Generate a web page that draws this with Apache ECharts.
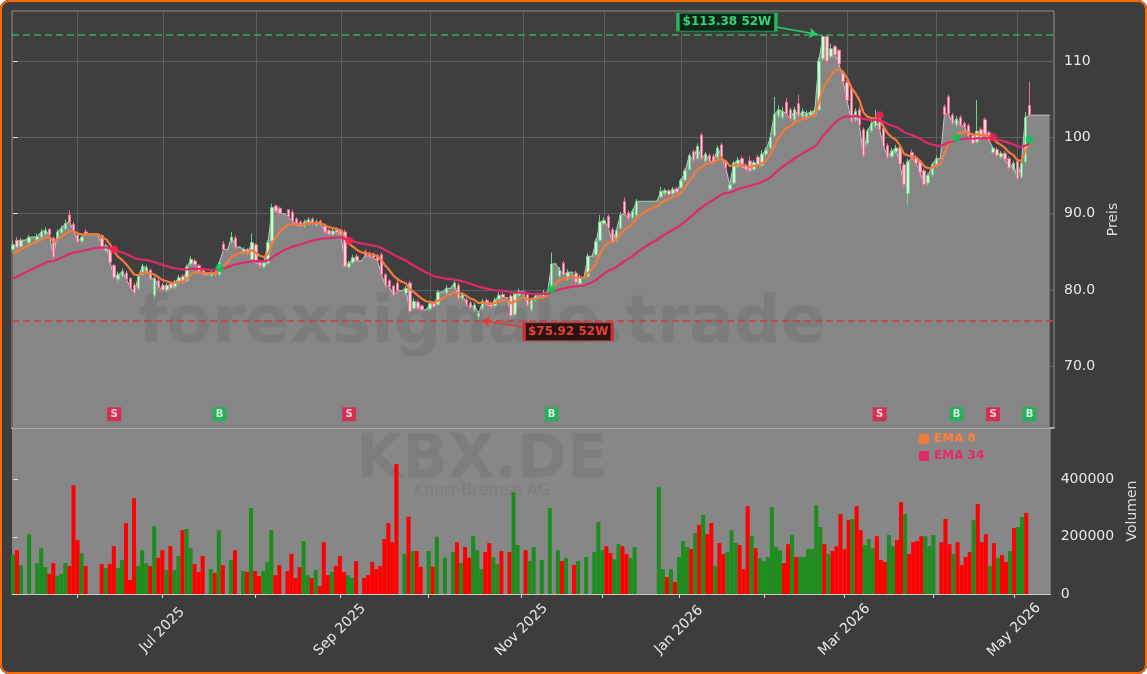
<!DOCTYPE html>
<html>
<head>
<meta charset="utf-8">
<script src="https://cdn.jsdelivr.net/npm/echarts@6/dist/echarts.min.js"></script>
<style>
  html, body { margin: 0; padding: 0; background: #ffffff; }
  #wrap { position: relative; width: 1147px; height: 674px; border-radius: 9px; overflow: hidden; background: #3d3d3d; }
  #chart { position: absolute; left: 0; top: 0; width: 1147px; height: 674px; }
  #frame { position: absolute; left: 0; top: 0; right: 0; bottom: 0; border: 2px solid #ff6a00; border-radius: 9px; pointer-events: none; }
</style>
</head>
<body>
<div id="wrap"><div id="chart"></div><div id="frame"></div></div>
<script>
// daily candles, one per trading day (May 2025 - May 2026): [open, close, low, high]
const candles = [
  [85.3,85.9,85.0,86.4],[86.5,85.6,85.3,86.9],[85.7,86.5,85.5,86.8],[86.5,86.5,86.5,86.5],[86.2,86.9,85.9,87.2],
  [86.9,86.9,86.9,86.9],[86.6,87.0,86.3,87.4],[86.9,87.6,86.7,88.0],[87.3,87.8,87.1,88.2],[87.9,87.2,86.9,88.1],
  [86.8,84.3,84.0,87.0],[86.8,87.6,86.5,87.9],[87.5,88.1,87.3,88.4],[88.0,88.7,87.8,89.2],[89.8,88.9,88.6,90.4],
  [88.6,87.7,87.4,88.9],[87.2,86.3,86.0,87.5],[86.4,86.9,86.1,87.3],[87.6,87.3,87.0,88.0],[87.3,87.3,87.3,87.3],
  [87.3,87.3,87.3,87.3],[87.3,87.3,87.3,87.3],[87.1,85.4,85.2,87.3],[85.2,85.8,84.9,86.1],[85.3,83.6,83.4,85.5],
  [83.2,81.6,81.3,83.4],[81.4,82.0,81.0,82.4],[81.9,82.4,81.6,82.8],[82.2,81.4,81.1,82.5],[81.5,80.3,80.0,81.7],
  [80.6,79.6,79.2,80.9],[80.2,81.8,80.0,82.1],[82.0,83.1,81.8,83.4],[82.4,82.9,82.1,83.3],[82.6,81.4,81.1,82.8],
  [79.3,81.5,78.9,81.8],[81.2,80.4,80.1,81.5],[80.6,80.0,79.6,80.9],[80.0,80.6,79.7,80.9],[80.8,80.2,79.9,81.1],
  [80.4,81.0,80.1,81.3],[81.0,81.6,80.7,82.0],[81.8,81.0,80.7,82.1],[81.2,83.0,81.0,83.3],[83.4,84.0,83.1,84.4],
  [83.8,83.3,83.0,84.1],[83.2,82.4,82.1,83.4],[82.6,82.0,81.7,82.8],[82.0,82.0,82.0,82.0],[81.9,82.3,81.6,82.6],
  [82.4,82.0,81.7,82.6],[82.0,83.6,81.8,83.9],[86.0,85.3,84.9,86.4],[85.3,85.3,85.3,85.3],[86.4,86.9,86.1,87.6],
  [86.8,85.6,85.3,87.1],[85.6,85.6,85.6,85.6],[84.9,85.3,84.6,85.6],[85.3,84.8,84.4,85.5],[84.0,86.2,83.8,87.4],
  [85.9,83.6,83.3,86.1],[83.7,83.2,82.9,84.0],[83.0,83.6,82.8,83.9],[83.5,86.2,83.3,86.5],[86.4,90.8,86.2,91.3],
  [91.0,90.3,90.0,91.2],[90.7,90.0,89.7,90.9],[90.0,90.0,90.0,90.0],[90.5,89.6,89.3,90.6],[90.2,89.0,88.7,90.5],
  [89.3,88.6,88.3,89.5],[88.9,88.3,88.0,89.1],[88.4,88.9,88.1,89.2],[88.8,89.2,88.5,89.5],[89.3,88.7,88.4,89.5],
  [88.5,88.9,88.2,89.2],[89.0,88.6,88.3,89.2],[88.5,87.6,87.3,88.7],[87.8,87.3,87.0,88.0],[87.3,87.7,87.0,88.0],
  [87.9,87.5,87.2,88.2],[87.8,87.3,87.0,88.0],[87.6,83.1,82.8,87.9],[83.0,83.5,82.7,83.8],[83.6,84.2,83.3,84.6],
  [84.4,83.8,83.5,84.7],[83.8,83.8,83.8,83.8],[85.0,84.5,84.2,85.3],[84.8,84.4,84.1,85.0],[84.7,84.2,83.9,84.9],
  [84.5,83.8,83.5,84.7],[84.6,82.0,81.7,84.9],[82.0,80.6,80.3,82.2],[81.2,80.4,80.1,81.4],[80.5,79.3,79.0,80.7],
  [80.9,79.9,79.4,81.3],[79.9,79.9,79.9,79.9],[79.6,80.2,79.3,80.5],[80.9,77.2,76.9,81.2],[77.6,78.5,77.3,78.9],
  [78.4,77.6,77.3,78.7],[77.9,77.4,77.0,78.1],[77.4,77.4,77.4,77.4],[77.5,78.2,77.2,78.5],[78.3,77.8,77.5,78.5],
  [78.1,79.7,77.9,80.0],[79.7,79.7,79.7,79.7],[79.6,80.2,79.3,80.6],[80.2,80.2,80.2,80.2],[80.3,80.9,80.0,81.4],
  [80.6,78.9,78.6,80.9],[78.9,79.4,78.6,79.7],[78.7,78.1,77.8,79.0],[78.3,77.7,77.4,78.6],[77.4,78.0,77.1,78.3],
  [76.5,76.9,75.92,77.2],[77.6,78.5,77.3,78.8],[78.6,78.1,77.8,78.9],[78.3,77.8,77.5,78.5],[77.9,78.6,77.6,79.0],
  [78.8,79.3,78.5,79.7],[79.4,79.0,78.7,79.7],[79.0,79.0,79.0,79.0],[79.2,76.6,76.3,79.4],[76.8,79.5,76.5,79.8],
  [79.3,79.8,79.0,80.2],[79.8,79.8,79.8,79.8],[79.4,78.0,77.7,79.6],[77.4,78.7,77.1,79.0],[78.8,79.2,78.5,79.5],
  [79.2,79.2,79.2,79.2],[79.1,79.6,78.8,80.0],[79.6,79.6,79.6,79.6],[79.9,83.4,79.7,84.9],[83.4,83.4,83.4,83.4],
  [81.8,82.6,81.5,83.0],[83.5,82.0,81.7,83.8],[81.5,82.3,81.2,82.7],[82.3,82.3,82.3,82.3],[82.2,81.0,80.6,82.5],
  [80.8,81.6,80.5,82.0],[81.6,81.6,81.6,81.6],[81.8,84.4,81.6,84.8],[84.4,84.4,84.4,84.4],[84.6,86.3,84.4,86.7],
  [86.5,88.9,86.3,89.8],[88.7,89.1,88.4,89.5],[89.6,88.1,87.8,89.9],[87.9,86.3,86.0,88.2],[86.6,87.8,86.3,88.1],
  [88.1,89.8,87.9,90.2],[91.6,90.0,89.7,92.1],[90.1,89.4,89.1,90.4],[89.5,90.3,89.2,90.6],[89.8,91.6,89.6,91.9],
  [91.6,91.6,91.6,91.6],[91.6,91.6,91.6,91.6],[91.6,91.6,91.6,91.6],[91.6,91.6,91.6,91.6],[91.6,91.6,91.6,91.6],
  [92.2,92.9,92.0,93.5],[92.7,93.0,92.4,93.3],[93.0,92.5,92.2,93.2],[92.6,93.2,92.3,93.5],[93.3,92.8,92.5,93.5],
  [93.4,94.3,93.2,94.6],[94.4,95.6,94.2,95.9],[95.8,97.6,95.6,97.9],[98.1,97.0,96.7,98.4],[97.2,98.8,97.0,99.2],
  [100.3,97.2,96.9,100.6],[96.9,97.8,96.6,98.1],[97.6,96.9,96.6,97.9],[97.5,96.8,96.5,97.8],[97.4,98.6,97.1,98.9],
  [99.0,97.5,97.2,99.3],[96.8,96.0,95.7,97.0],[93.2,93.8,92.9,94.2],[94.0,96.6,93.8,96.9],[96.2,97.0,95.9,97.4],
  [97.2,96.2,95.9,97.5],[96.3,95.8,95.5,96.6],[96.9,95.6,95.3,97.5],[95.8,96.7,95.5,97.0],[97.4,96.4,96.1,97.7],
  [96.3,97.8,96.1,98.3],[97.8,98.3,97.5,98.7],[98.6,100.0,98.4,100.5],[100.2,103.0,100.0,105.3],[102.8,103.6,102.5,104.2],
  [102.6,103.4,102.3,104.0],[104.6,103.1,102.8,105.1],[103.6,102.4,102.1,103.9],[102.3,103.6,102.0,104.0],[104.4,102.8,102.5,105.6],
  [102.7,103.4,102.4,103.8],[102.6,103.1,102.3,103.5],[102.9,103.3,102.6,103.6],[103.0,103.5,102.7,103.9],[103.6,110.0,103.4,110.4],
  [110.3,113.2,110.0,113.38],[113.2,110.0,109.7,113.3],[110.6,111.6,110.3,112.3],[111.9,110.8,110.5,112.1],[111.4,109.6,109.3,111.6],
  [108.4,107.3,107.0,108.7],[107.2,104.8,104.5,107.5],[106.5,102.1,101.8,106.8],[102.3,103.4,102.0,103.8],[103.6,101.6,101.3,104.0],
  [101.0,97.6,97.3,101.3],[99.2,100.8,98.9,101.1],[100.9,101.8,100.6,102.2],[101.5,102.3,101.2,103.6],[102.6,101.0,100.7,102.9],
  [101.2,98.8,98.5,101.5],[98.9,97.4,97.1,99.2],[97.5,98.2,97.2,98.6],[98.1,98.6,97.8,99.0],[98.6,96.5,96.2,98.9],
  [96.4,93.8,93.2,96.7],[92.6,96.8,91.1,97.2],[98.0,97.3,97.0,98.4],[97.4,96.6,96.3,97.7],[96.8,95.4,95.1,97.1],
  [95.6,93.8,93.5,95.9],[94.0,95.0,93.7,95.3],[95.1,96.4,94.8,96.7],[96.3,97.2,96.0,97.6],[97.2,97.2,97.2,97.2],
  [104.0,103.0,102.7,104.3],[105.3,103.1,102.8,105.6],[102.9,101.8,101.5,103.2],[101.6,102.4,101.3,102.8],[102.6,101.6,101.3,102.9],
  [101.8,101.3,101.0,102.1],[101.5,100.2,99.9,101.8],[100.3,99.2,98.9,100.6],[99.4,100.8,99.1,104.9],[101.0,99.8,99.5,101.3],
  [102.3,100.4,100.1,102.6],[100.6,99.6,99.3,100.9],[98.0,98.6,97.7,98.9],[98.4,97.6,97.3,98.7],[97.4,97.9,97.1,98.2],
  [97.9,97.1,96.8,98.2],[97.2,96.0,95.7,97.5],[95.8,96.6,95.5,96.9],[96.8,94.6,94.3,97.0],[94.8,96.6,94.5,96.9],
  [96.8,102.6,96.5,103.3],[104.2,102.9,102.6,107.3]
];

const volume = [
  136000,153000,101000,0,209000,0,107000,160000,94000,70000,
  108000,64000,70000,108000,98000,380000,188000,142000,98000,0,
  0,0,105000,91000,105000,167000,91000,119000,248000,49000,
  335000,98000,153000,107000,98000,237000,126000,153000,84000,167000,
  84000,133000,223000,227000,160000,105000,77000,133000,0,87000,
  73000,223000,101000,0,119000,153000,0,80000,77000,300000,
  80000,63000,80000,112000,223000,66000,101000,0,80000,140000,
  56000,94000,185000,66000,56000,84000,28000,181000,66000,77000,
  98000,133000,77000,66000,56000,115000,0,56000,66000,112000,
  87000,98000,192000,248000,181000,454000,0,140000,270000,150000,
  150000,95000,0,150000,95000,200000,0,127000,0,147000,
  181000,108000,164000,127000,202000,153000,87000,147000,178000,129000,
  105000,150000,0,147000,356000,171000,0,153000,115000,164000,
  0,119000,0,300000,0,153000,115000,126000,0,101000,
  115000,0,129000,0,147000,251000,153000,167000,143000,122000,
  174000,167000,140000,126000,164000,0,0,0,0,0,
  373000,87000,59000,87000,42000,129000,185000,164000,157000,213000,
  241000,276000,209000,248000,98000,178000,140000,147000,223000,178000,
  171000,87000,307000,202000,160000,126000,115000,129000,304000,164000,
  153000,108000,174000,206000,129000,129000,129000,157000,157000,310000,
  234000,174000,140000,150000,167000,279000,157000,258000,262000,307000,
  223000,171000,192000,160000,202000,119000,112000,206000,167000,188000,
  321000,279000,140000,181000,185000,202000,202000,167000,206000,0,
  181000,262000,174000,140000,181000,101000,129000,147000,258000,314000,
  181000,209000,98000,178000,126000,136000,112000,150000,230000,234000,
  269000,283000
];

// month starts (trading-day index) and their labels
const monthTicks = [16, 37, 60, 81, 103, 126, 146, 165, 186, 206, 228, 248];
const monthLabels = ['', 'Jul 2025', '', 'Sep 2025', '', 'Nov 2025', '', 'Jan 2026', '', 'Mar 2026', '', 'May 2026'];
const priceTicks = [70, 80, 90, 100, 110];
const priceTickLabels = ['70.0', '80.0', '90.0', '100', '110'];
const volumeTicks = [0, 200000, 400000];

// EMA crossover signals
const signalIdx = [25, 51, 83, 133, 214, 233, 242, 251];
const signalType = ['S', 'B', 'S', 'B', 'S', 'B', 'S', 'B'];
const signalPrice = [85.3, 82.9, 86.45, 80.1, 102.9, 99.9, 100.0, 99.7];

const high52 = 113.38;
const low52 = 75.92;
const ema8Start = 84.8;   // EMA values carried in from before the window
const ema34Start = 81.5;
const fillEndIdx = 256;   // gray fill runs on to here

const closes = candles.map(d => d[1]);

function ema(values, period, start) {
  const k = 2 / (period + 1);
  let prev = start;
  return values.map((v, i) => {
    if (i > 0) prev = prev + k * (v - prev);
    return +prev.toFixed(3);
  });
}
const ema8 = ema(closes, 8, ema8Start);
const ema34 = ema(closes, 34, ema34Start);

const xMin = -0.23, xMax = 257.06;
const font = 'DejaVu Sans';
const labelTicks = monthTicks.filter((t, k) => monthLabels[k]);

const areaData = closes.map((c, i) => [i, c]).concat([[fillEndIdx, closes[closes.length - 1]]]);

const chart = echarts.init(document.getElementById('chart'));

const option = {
  backgroundColor: '#3d3d3d',
  animation: false,
  textStyle: { fontFamily: font },
  grid: [
    { left: 12, right: 93, top: 11, height: 417, show: true, backgroundColor: '#3f3f3f', borderColor: '#8f8f8f', borderWidth: 1 },
    { left: 12, right: 93, top: 428, height: 166, show: true, backgroundColor: '#878787', borderWidth: 0 }
  ],
  legend: {
    data: [
      { name: 'EMA 8', textStyle: { color: '#ff7f3f' } },
      { name: 'EMA 34', textStyle: { color: '#e8286e' } }
    ],
    orient: 'vertical', left: 914, top: 428,
    icon: 'rect', itemWidth: 10, itemHeight: 10, itemGap: 5,
    textStyle: { fontWeight: 'bold', fontSize: 12, fontFamily: font },
    selectedMode: false
  },
  xAxis: [
    {
      type: 'value', gridIndex: 0, min: xMin, max: xMax,
      axisLine: { show: true, onZero: false, lineStyle: { color: '#a8a8a8', width: 2 } },
      axisTick: { show: false, customValues: monthTicks },
      axisLabel: { show: false },
      splitLine: { show: true, lineStyle: { color: '#5e5e5e', width: 1 } }
    },
    {
      type: 'value', gridIndex: 1, min: xMin, max: xMax,
      axisLine: { show: true, onZero: false, lineStyle: { color: '#c8c8c8', width: 1 } },
      axisTick: { show: true, length: 4, customValues: monthTicks, lineStyle: { color: '#dcdcdc' } },
      axisLabel: {
        customValues: labelTicks,
        formatter: v => monthLabels[monthTicks.indexOf(v)] || '',
        rotate: 45, align: 'center', verticalAlign: 'middle', margin: 36,
        color: '#e8e8e8', fontSize: 14, fontFamily: font
      },
      splitLine: { show: false }
    }
  ],
  yAxis: [
    {
      type: 'value', gridIndex: 0, position: 'right', min: 61.9, max: 116.55,
      axisLine: { show: false },
      axisTick: { show: true, length: 5, customValues: priceTicks, lineStyle: { color: '#dddddd' } },
      axisLabel: {
        customValues: priceTicks,
        formatter: v => priceTickLabels[priceTicks.indexOf(v)],
        color: '#e8e8e8', fontSize: 14, margin: 10, fontFamily: font
      },
      splitLine: { show: true, lineStyle: { color: '#5e5e5e', width: 1 } },
      name: 'Preis', nameLocation: 'middle', nameGap: 52, nameRotate: 90,
      nameTextStyle: { color: '#dddddd', fontSize: 14, fontFamily: font }
    },
    {
      type: 'value', gridIndex: 1, position: 'right', min: 0, max: 580000,
      axisLine: { show: false },
      axisTick: { show: true, length: 5, customValues: volumeTicks, lineStyle: { color: '#dddddd' } },
      axisLabel: { customValues: volumeTicks, formatter: v => String(v), color: '#e8e8e8', fontSize: 14, margin: 10, fontFamily: font },
      splitLine: { show: false },
      name: 'Volumen', nameLocation: 'middle', nameGap: 73, nameRotate: 90,
      nameTextStyle: { color: '#dddddd', fontSize: 14, fontFamily: font }
    }
  ],
  graphic: [
    { type: 'text', x: 482, y: 325, z: 2, silent: true,
      style: { text: 'forexsignale.trade', font: 'bold 66px "DejaVu Sans"', fill: 'rgba(0,0,0,0.075)', align: 'center', verticalAlign: 'middle' } },
    { type: 'text', x: 482, y: 461, z: 2, silent: true,
      style: { text: 'KBX.DE', font: 'bold 60px "DejaVu Sans"', fill: 'rgba(0,0,0,0.07)', align: 'center', verticalAlign: 'middle' } },
    { type: 'text', x: 482, y: 491, z: 2, silent: true,
      style: { text: 'Knorr-Bremse AG', font: '16px "DejaVu Sans"', fill: 'rgba(0,0,0,0.07)', align: 'center', verticalAlign: 'middle' } }
  ],
  series: [
    {
      name: 'Close', type: 'line', xAxisIndex: 0, yAxisIndex: 0, z: 1,
      data: areaData, symbol: 'none', silent: true,
      lineStyle: { color: '#c6c6c6', width: 1 },
      areaStyle: { color: '#868686', opacity: 1, origin: 'start' },
      markLine: {
        silent: true, symbol: ['none', 'none'], label: { show: false },
        data: [
          { yAxis: high52, lineStyle: { color: '#2fae60', type: [7, 4], width: 1.5 } },
          { yAxis: low52, lineStyle: { color: '#d23b3b', type: [7, 4], width: 1.5 } },
          [
            { coord: [188.4, 114.45], symbol: 'none', lineStyle: { color: '#2ecc71', type: 'solid', width: 1.5 } },
            { coord: [198.6, 113.5], symbol: 'arrow', symbolSize: 8 }
          ],
          [
            { coord: [125.7, 75.15], symbol: 'none', lineStyle: { color: '#e53935', type: 'solid', width: 1.5 } },
            { coord: [115.8, 76.0], symbol: 'arrow', symbolSize: 8 }
          ]
        ]
      },
      markPoint: {
        silent: true,
        data: [
          {
            coord: [176.3, 115.1], symbol: 'rect', symbolSize: [98, 18],
            itemStyle: { color: '#0d2616', borderColor: '#2ab060', borderWidth: 1.5 },
            label: { show: true, position: 'inside', formatter: '$' + high52.toFixed(2) + ' 52W', color: '#3ad27c', fontWeight: 'bold', fontSize: 12, fontFamily: font }
          },
          {
            coord: [137.1, 74.5], symbol: 'rect', symbolSize: [88, 18],
            itemStyle: { color: '#2a1313', borderColor: '#cc3030', borderWidth: 1.5 },
            label: { show: true, position: 'inside', formatter: '$' + low52.toFixed(2) + ' 52W', color: '#e8403a', fontWeight: 'bold', fontSize: 12, fontFamily: font }
          }
        ]
      }
    },
    {
      name: 'Kurs', type: 'candlestick', xAxisIndex: 0, yAxisIndex: 0, z: 3,
      data: candles.map((d, i) => [i, d[0], d[1], d[2], d[3]]),
      encode: { x: 0, y: [1, 2, 3, 4] },
      barWidth: 3, silent: true,
      itemStyle: { color: '#d6f4da', color0: '#fad2dc', borderColor: '#6fd08a', borderColor0: '#f06d92', borderWidth: 1 }
    },
    {
      name: 'EMA 8', type: 'line', xAxisIndex: 0, yAxisIndex: 0, z: 4,
      data: ema8.map((v, i) => [i, v]), symbol: 'none', color: '#f47a3c',
      lineStyle: { color: '#f47a3c', width: 2.2 }
    },
    {
      name: 'EMA 34', type: 'line', xAxisIndex: 0, yAxisIndex: 0, z: 4,
      data: ema34.map((v, i) => [i, v]), symbol: 'none', color: '#e0286c',
      lineStyle: { color: '#e0286c', width: 2.2 }
    },
    {
      name: 'Signal', type: 'scatter', xAxisIndex: 0, yAxisIndex: 0, z: 6, silent: true,
      symbolSize: 8,
      data: signalIdx.map((x, k) => ({ value: [x, signalPrice[k]], itemStyle: { color: signalType[k] === 'S' ? '#ff1f4f' : '#00c957' } }))
    },
    {
      name: 'SignalTag', type: 'scatter', xAxisIndex: 0, yAxisIndex: 0, z: 6, silent: true,
      symbol: 'rect', symbolSize: 14,
      data: signalIdx.map((x, k) => ({
        value: [x, 63.7],
        itemStyle: { color: signalType[k] === 'S' ? '#e8194b' : '#12b654' },
        label: { show: true, position: 'inside', formatter: signalType[k], color: '#ffffff', fontWeight: 'bold', fontSize: 10, fontFamily: font }
      }))
    },
    {
      name: 'Volumen', type: 'bar', xAxisIndex: 1, yAxisIndex: 1, z: 3, silent: true,
      barWidth: 4.05,
      data: volume.map((v, i) => [i, v]),
      itemStyle: {
        color: p => candles[p.dataIndex][1] >= candles[p.dataIndex][0] ? '#1e8c1e' : '#ff0000'
      }
    }
  ]
};

chart.setOption(option);
</script>
</body>
</html>
